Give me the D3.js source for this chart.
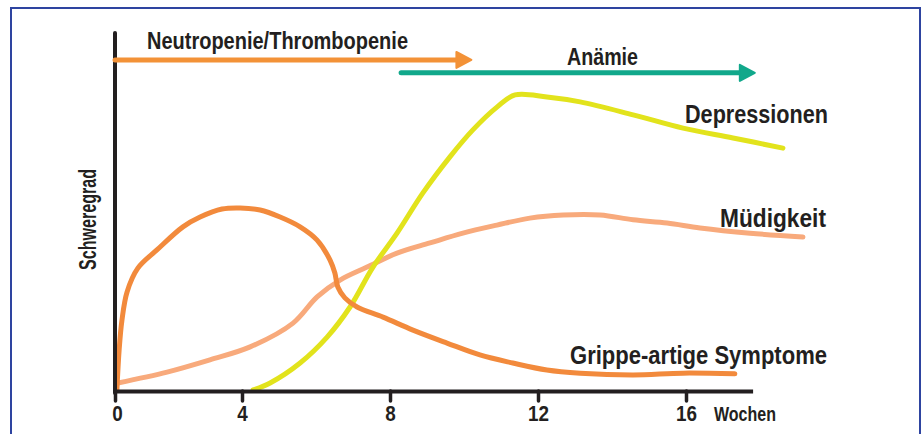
<!DOCTYPE html>
<html>
<head>
<meta charset="utf-8">
<script src="https://cdn.jsdelivr.net/npm/d3@7"></script>
<style>
  body { margin: 0; background: #fff; }
  text { font-family: "Liberation Sans", Arial, sans-serif; font-weight: bold; fill: #231f20; }
</style>
</head>
<body>
<div class="canvas"></div>
<script>
// Data (weeks on x, severity 0-100 on y)
const tickWeeks = [0, 4, 8, 12, 16];
const unitLabel = 'Wochen';
const yLabel = 'Schweregrad';

const grippeWeeks = [0.06, 0.13, 0.22, 0.38, 0.72, 1.32, 2.14, 2.68, 3.37, 3.94, 4.49, 5.03, 5.57, 6.03, 6.38, 6.51, 6.59, 6.78, 7.11, 7.81, 8.62, 9.54, 10.43, 11.32, 12.24, 13.14, 14.57, 15.92, 17.32];
const grippeValues = [0.3, 11.7, 20.3, 28.3, 35.1, 40.3, 46.9, 49.7, 52, 52.3, 51.7, 49.7, 46.9, 43.1, 37.4, 33.7, 29.7, 26.6, 24, 21.1, 17.4, 13.7, 10.3, 8, 6, 5.1, 4.6, 5.1, 4.9];

const muedWeeks = [0.09, 1.64, 2.99, 4.22, 5.38, 6.03, 6.65, 7.38, 8.19, 9.08, 9.97, 10.89, 11.78, 12.68, 13.68, 14.57, 15.49, 16.38, 17.73, 19.16];
const muedValues = [2.3, 5.4, 8.9, 12.6, 19.4, 26.9, 31.7, 35.4, 39.4, 42.3, 45.1, 47.4, 49.4, 50.3, 50.3, 48.9, 48, 46.6, 45.1, 44];

const deprWeeks = [4.3, 4.76, 5.57, 6.3, 6.92, 7.54, 8.19, 8.89, 9.62, 10.24, 10.89, 11.38, 12.24, 13.14, 14.57, 15.92, 17.27, 18.62];
const deprValues = [0.3, 2.3, 8, 15.4, 24, 35.4, 45.1, 56.6, 66.9, 74.6, 81.1, 84.6, 84, 82.6, 78.9, 75.1, 72.3, 69.4];

// Phase arrows
const arrowNames = ['Neutropenie/Thrombopenie', 'Anämie'];
const arrowFrom = [0, 8.3];
const arrowTo = [10.2, 17.86];
const arrowLevel = [94.6, 90.9];

const seriesNames = ['Depressionen', 'Müdigkeit', 'Grippe-artige Symptome'];

// Graph set up
const svgWidth = 924;
const svgHeight = 434;

const svg = d3.select('.canvas')
    .append('svg')
    .attr('width', svgWidth)
    .attr('height', svgHeight);

// frame
svg.append('rect')
    .attr('x', 11).attr('y', 8)
    .attr('width', 909).attr('height', 440)
    .attr('fill', 'none')
    .attr('stroke', '#2e44a0')
    .attr('stroke-width', 2);

// Scales (hand drawn axis: first interval is narrower)
const x = d3.scaleLinear().domain([0, 4, 17.8]).range([115, 242, 752.6]);
const y = d3.scaleLinear().domain([0, 100]).range([391, 41]);
const yTop = 102.3;

const line = d3.line()
    .x(d => x(d[0]))
    .y(d => y(d[1]))
    .curve(d3.curveCatmullRom.alpha(0.5));

const colors = {
    grippe: '#f28a3c',
    mued: '#f8aa7c',
    depr: '#e2e31c',
    neutro: '#f39237',
    anaemie: '#11a88b'
};

// condensed bold text: squeeze to the measured width
const label = (txt, px, py, size, width, anchor) => {
    const t = svg.append('text')
        .attr('x', px).attr('y', py)
        .style('font-size', size + 'px')
        .attr('textLength', width)
        .attr('lengthAdjust', 'spacingAndGlyphs')
        .text(txt);
    if (anchor) t.attr('text-anchor', anchor);
    return t;
};

// Curves
const curves = [
    { w: muedWeeks, v: muedValues, c: colors.mued },
    { w: deprWeeks, v: deprValues, c: colors.depr },
    { w: grippeWeeks, v: grippeValues, c: colors.grippe }
];

svg.selectAll('path.curve')
    .data(curves)
    .enter()
    .append('path')
        .attr('class', 'curve')
        .attr('fill', 'none')
        .attr('stroke', d => d.c)
        .attr('stroke-width', 5)
        .attr('stroke-linecap', 'round')
        .attr('stroke-linejoin', 'round')
        .attr('d', d => line(d.w.map((w, i) => [w, d.v[i]])));

// Axes
const xAxis = d3.axisBottom(x)
    .tickValues(tickWeeks)
    .tickSize(10)
    .tickSizeOuter(0)
    .tickFormat(d => d);

const xAxisGroup = svg.append('g')
    .attr('class', 'x-axis')
    .attr('transform', `translate(0,${y(0)})`)
    .attr('font-family', null)
    .attr('font-size', null)
    .call(xAxis);

xAxisGroup.select('.domain')
    .attr('stroke', '#231f20')
    .attr('stroke-width', 4);
xAxisGroup.selectAll('.tick line')
    .attr('stroke', '#231f20')
    .attr('stroke-width', 3.5)
    .attr('stroke-linecap', 'round');
xAxisGroup.selectAll('.tick text')
    .attr('y', 30)
    .attr('dy', 0)
    .attr('x', d => d === 0 ? 2 : 0)
    .attr('fill', '#231f20')
    .style('font-size', '22px')
    .attr('textLength', d => String(d).length * 10.5)
    .attr('lengthAdjust', 'spacingAndGlyphs');

label(unitLabel, 714, y(0) + 30, 20, 62);

svg.append('line')
    .attr('x1', x(0)).attr('x2', x(0))
    .attr('y1', y(0) + 2).attr('y2', y(yTop))
    .attr('stroke', '#231f20')
    .attr('stroke-width', 4)
    .attr('stroke-linecap', 'round');

label(yLabel, 0, 0, 23, 101, 'middle')
    .attr('transform', `translate(96,${y(49)}) rotate(-90)`);

// Phase arrows
arrowNames.forEach((name, i) => {
    const ay = y(arrowLevel[i]);
    const x1 = x(arrowFrom[i]);
    const x2 = x(arrowTo[i]);
    const c = i === 0 ? colors.neutro : colors.anaemie;
    svg.append('line')
        .attr('x1', x1).attr('x2', x2 - 12)
        .attr('y1', ay).attr('y2', ay)
        .attr('stroke', c)
        .attr('stroke-width', 5)
        .attr('stroke-linecap', 'round');
    svg.append('path')
        .attr('d', `M${x2 - 15},${ay - 8} L${x2},${ay} L${x2 - 15},${ay + 8} Z`)
        .attr('fill', c)
        .attr('stroke', c)
        .attr('stroke-width', 2)
        .attr('stroke-linejoin', 'round');
});

label(arrowNames[0], 147, 49, 23, 261);
label(arrowNames[1], 567, 65, 23, 71);

// Series labels
const labelX = [685, 720, 570];
const labelW = [143, 106, 257];
const labelY = [123, 227, 364];
seriesNames.forEach((name, i) => label(name, labelX[i], labelY[i], 26, labelW[i]));
</script>
</body>
</html>
